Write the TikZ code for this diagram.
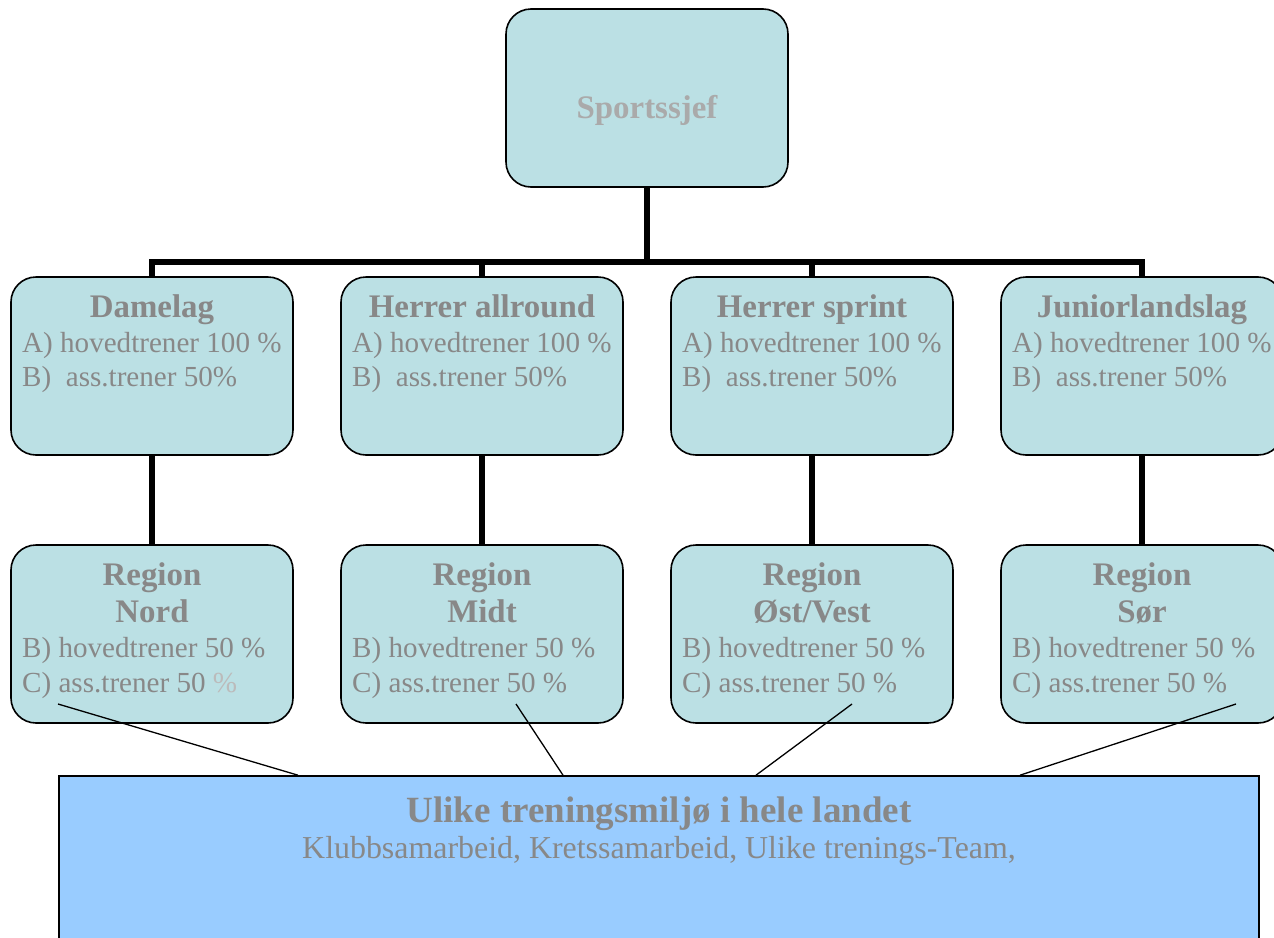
\documentclass[tikz,border=0pt]{standalone}
\usepackage{fontspec}
\setmainfont{Liberation Serif}
\definecolor{boxfill}{HTML}{BBE0E4}
\definecolor{basefill}{HTML}{99CCFF}
\definecolor{txtgray}{HTML}{888888}
\definecolor{lightgray}{HTML}{AAAAAA}
\definecolor{palegray}{HTML}{BBBBBB}
\begin{document}
\begin{tikzpicture}[x=1pt,y=-1pt,
  orgbox/.style={draw=black,line width=1.6pt,fill=boxfill,rounded corners=25pt,
    minimum width=282pt,minimum height=178pt,inner sep=0pt},
  basebox/.style={draw=black,line width=1.6pt,fill=basefill,
    minimum width=1200pt,minimum height=220pt,inner sep=0pt},
  trunk/.style={line width=5.5pt},
  thinline/.style={line width=1.3pt},
  ttl/.style={text=txtgray,inner sep=0pt,anchor=base,font=\fontsize{32.9}{35}\selectfont\bfseries},
  body/.style={text=txtgray,inner sep=0pt,anchor=base west,font=\fontsize{29.1}{34}\selectfont}]
\useasboundingbox (0,0) rectangle (1274,937);
\clip (0,0) rectangle (1274,937);
\fill[white] (0,0) rectangle (1274,937);

% boxes
\node[orgbox] (sj) at (647,98) {};
\node[orgbox] (dl) at (152,366) {};
\node[orgbox] (ha) at (482,366) {};
\node[orgbox] (hs) at (812,366) {};
\node[orgbox] (jl) at (1142,366) {};
\node[orgbox] (rn) at (152,634) {};
\node[orgbox] (rm) at (482,634) {};
\node[orgbox] (ro) at (812,634) {};
\node[orgbox] (rs) at (1142,634) {};
\node[basebox] (ul) at (659,886) {};

% thick connectors
\coordinate (bt) at (647,262);
\coordinate (b1) at (152,262);
\coordinate (b2) at (482,262);
\coordinate (b3) at (812,262);
\coordinate (b4) at (1142,262);
\draw[trunk] (sj.south) -- (bt);
\draw[trunk] (dl.north) -- (b1) -- (b4) -- (jl.north);
\draw[trunk] (ha.north) -- (b2);
\draw[trunk] (hs.north) -- (b3);
\draw[trunk] (dl.south) -- (rn.north);
\draw[trunk] (ha.south) -- (rm.north);
\draw[trunk] (hs.south) -- (ro.north);
\draw[trunk] (jl.south) -- (rs.north);

% thin connectors
\coordinate (n1) at (58,704);
\coordinate (n2) at (516,704);
\coordinate (n3) at (852,704);
\coordinate (n4) at (1236,704);
\draw[thinline] (n1) -- (ul.north west -| 298,0);
\draw[thinline] (n2) -- (ul.north west -| 563,0);
\draw[thinline] (n3) -- (ul.north west -| 756,0);
\draw[thinline] (n4) -- (ul.north west -| 1020,0);

% texts
\node[ttl,text=lightgray] (tsj) at (647,118) {Sportssjef};

\node[ttl] (tdl) at (152,317) {Damelag};
\node[body] (tdl1) at (22,352) {A) hovedtrener 100 \%};
\node[body] (tdl2) at (22,386) {B)~~ass.trener 50\%};

\node[ttl] (tha) at (482,317) {Herrer allround};
\node[body] (tha1) at (352,352) {A) hovedtrener 100 \%};
\node[body] (tha2) at (352,386) {B)~~ass.trener 50\%};

\node[ttl] (ths) at (812,317) {Herrer sprint};
\node[body] (ths1) at (682,352) {A) hovedtrener 100 \%};
\node[body] (ths2) at (682,386) {B)~~ass.trener 50\%};

\node[ttl] (tjl) at (1142,317) {Juniorlandslag};
\node[body] (tjl1) at (1012,352) {A) hovedtrener 100 \%};
\node[body] (tjl2) at (1012,386) {B)~~ass.trener 50\%};

\node[ttl] (trn) at (152,585) {Region};
\node[ttl] (trn0) at (152,622) {Nord};
\node[body] (trn1) at (22,657) {B) hovedtrener 50 \%};
\node[body] (trn2) at (22,692) {C) ass.trener 50 \textcolor{palegray}{\%}};

\node[ttl] (trm) at (482,585) {Region};
\node[ttl] (trm0) at (482,622) {Midt};
\node[body] (trm1) at (352,657) {B) hovedtrener 50 \%};
\node[body] (trm2) at (352,692) {C) ass.trener 50 \%};

\node[ttl] (tro) at (812,585) {Region};
\node[ttl] (tro0) at (812,622) {Øst/Vest};
\node[body] (tro1) at (682,657) {B) hovedtrener 50 \%};
\node[body] (tro2) at (682,692) {C) ass.trener 50 \%};

\node[ttl] (trs) at (1142,585) {Region};
\node[ttl] (trs0) at (1142,622) {Sør};
\node[body] (trs1) at (1012,657) {B) hovedtrener 50 \%};
\node[body] (trs2) at (1012,692) {C) ass.trener 50 \%};

\node[ttl,font=\fontsize{37}{40}\selectfont\bfseries] (tul) at (659,822) {Ulike treningsmiljø i hele landet};
\node[text=txtgray,inner sep=0pt,anchor=base,font=\fontsize{31.9}{36}\selectfont] (tul1) at (659,858) {Klubbsamarbeid, Kretssamarbeid, Ulike trenings-Team,};
\end{tikzpicture}
\end{document}
